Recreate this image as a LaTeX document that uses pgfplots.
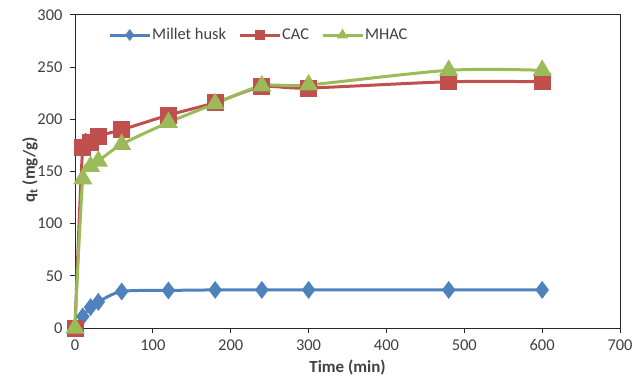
\documentclass[border=0pt]{standalone}
\usepackage{pgfplots}
\pgfplotsset{compat=1.18}
\usepackage{fontspec}
\setmainfont{Carlito}
\definecolor{cblue}{HTML}{4F81BD}
\definecolor{cred}{HTML}{C0504D}
\definecolor{cgreen}{HTML}{9BBB59}
\definecolor{txt}{HTML}{404040}
\begin{document}
\begin{tikzpicture}[x=1bp,y=1bp]
\path[use as bounding box] (0,0) rectangle (634,381);
\begin{axis}[
  at={(75bp,53bp)}, anchor=south west,
  scale only axis, width=545bp, height=313bp,
  xmin=0, xmax=700, ymin=0, ymax=300,
  xtick={0,100,...,700}, ytick={0,50,...,300},
  tick align=outside, xtick pos=left, ytick pos=left,
  major tick length=5bp,
  axis line style={line width=1bp, black!85},
  tick style={line width=1bp, black!85},
  /pgf/number format/assume math mode=true,
  ticklabel style={font=\fontsize{16.5}{19}\selectfont, text=txt},
  yticklabel style={xshift=-4bp},
  xticklabel style={yshift=-3bp},
  xlabel={\textbf{Time (min)}},
  ylabel={\textbf{q\textsubscript{t} (mg/g)}},
  label style={font=\fontsize{17}{20}\selectfont, text=txt},
  xlabel style={at={(axis description cs:0.5,0)}, yshift=-39bp, anchor=center},
  ylabel style={at={(axis description cs:0,0.505)}, yshift=45bp, anchor=center},
  clip=false,
  legend columns=3,
  legend style={draw=none, fill=none, inner xsep=0pt, inner ysep=0pt,
    at={(0.0606,0.936)}, anchor=west,
    nodes={inner xsep=1bp},
    font=\fontsize{16.5}{19}\selectfont, text=txt,
    /tikz/every even column/.append style={column sep=11bp}},
  legend image code/.code={
    \draw[#1, mark=none] (0bp,0bp) -- (40bp,0bp);
    \draw[#1, only marks, mark size=3.5bp] plot coordinates {(20bp,0bp)};
  },
]
\addplot[cblue, line width=3bp, smooth, tension=0.5, mark=diamond*, mark size=6.5bp, mark options={solid}]
coordinates {(0,0)(10,11)(20,20)(30,25)(60,35)(120,36)(180,36.5)(240,36.5)(300,36.5)(480,36.5)(600,36.5)};
\addlegendentry{Millet husk}
\addplot[cred, line width=3bp, smooth, tension=0.5, mark=square*, mark size=7bp, mark options={solid}]
coordinates {(0,0)(10,173)(20,178)(30,184)(60,190)(120,204)(180,216)(240,231)(300,230)(480,236)(600,236)};
\addlegendentry{CAC}
\addplot[cgreen, line width=3bp, smooth, tension=0.5, mark=triangle*, mark size=8bp, mark options={solid}]
coordinates {(0,0)(10,143)(20,155)(30,160)(60,176)(120,197)(180,215)(240,232)(300,233)(480,247)(600,247)};
\addlegendentry{MHAC}
\draw[line width=1bp, black!85] (rel axis cs:0,1) -- (rel axis cs:1,1) -- (rel axis cs:1,0);
\end{axis}
\end{tikzpicture}
\end{document}
